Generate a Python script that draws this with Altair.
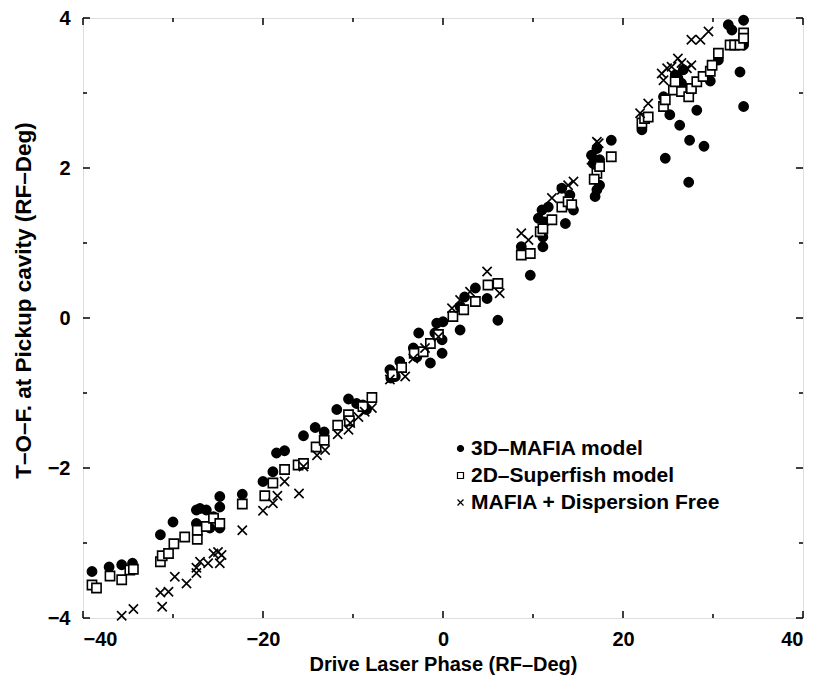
import altair as alt
import pandas as pd

# ---- data ----
mafia_x = [-39.0, -37.1, -35.7, -34.5, -31.4, -30.0, -27.4, -27.0, -26.3, -27.4, -25.9, -25.5,
           -24.8, -24.8, -24.8, -22.3, -20.0, -18.9, -18.5, -17.6, -15.5, -14.2, -13.2, -11.8,
           -10.5, -9.6, -8.9, -8.5, -5.9, -4.8, -5.3, -5.8, -2.7, -3.3, -2.9, -1.4, -0.1, -0.7,
           0.0, -0.1, 1.9, -0.9, 1.9, 2.4, 3.6, 4.9, 6.1, 9.7, 8.7, 11.1, 11.1, 10.6, 11.0, 11.7,
           11.3, 13.6, 13.2, 14.1, 14.5, 16.9, 17.1, 17.4, 16.7, 17.4, 16.5, 17.1, 18.7, 22.1,
           24.5, 25.2, 24.7, 26.3, 27.4, 27.3, 28.2, 29.0, 27.6, 29.7, 30.6, 33.0, 33.4, 31.7,
           32.1, 33.4, 33.4, 25.8, 26.1, 26.7, 26.0, 26.5]
mafia_y = [-3.38, -3.32, -3.29, -3.27, -2.89, -2.72, -2.56, -2.54, -2.56, -2.74, -2.80, -2.65,
           -2.38, -2.52, -2.80, -2.35, -2.18, -2.05, -1.80, -1.77, -1.57, -1.46, -1.52, -1.22,
           -1.08, -1.14, -1.16, -1.22, -0.69, -0.58, -0.78, -0.80, -0.20, -0.40, -0.52, -0.60,
           -0.47, -0.07, -0.05, -0.29, -0.16, -0.20, 0.15, 0.28, 0.40, 0.26, -0.03, 0.57, 0.95,
           0.95, 1.08, 1.33, 1.44, 1.48, 1.28, 1.26, 1.73, 1.64, 1.44, 1.62, 1.71, 1.77, 2.06,
           2.11, 2.17, 2.26, 2.37, 2.51, 2.95, 2.71, 2.13, 2.57, 2.37, 1.81, 2.77, 2.29, 3.04,
           3.16, 3.44, 3.28, 2.82, 3.91, 3.84, 3.97, 3.64, 3.24, 3.20, 3.31, 3.15, 3.13]

sf_x = [-39.0, -38.5, -37.0, -35.7, -34.8, -34.4, -31.4, -31.2, -30.5, -29.9, -28.7, -27.3,
        -27.3, -26.3, -25.5, -24.8, -22.3, -19.8, -18.9, -17.6, -16.1, -15.5, -14.1, -13.2,
        -11.7, -10.5, -10.4, -8.9, -7.9, -5.6, -4.6, -3.2, -2.2, -1.4, -0.5, 1.1, 2.3, 3.6,
        5.0, 6.1, 8.7, 9.7, 10.8, 11.1, 12.1, 13.2, 13.9, 14.3, 17.1, 16.8, 17.4, 18.7, 22.1,
        22.4, 22.8, 24.5, 24.7, 25.6, 26.5, 27.3, 27.6, 28.2, 28.9, 29.7, 29.9, 30.6, 31.9,
        32.4, 33.0, 33.4, 33.4, 25.8]
sf_y = [-3.56, -3.60, -3.44, -3.49, -3.36, -3.35, -3.25, -3.17, -3.14, -3.01, -2.92, -2.95,
        -2.83, -2.78, -2.67, -2.74, -2.48, -2.37, -2.20, -2.02, -1.96, -1.94, -1.72, -1.63,
        -1.43, -1.29, -1.37, -1.18, -1.06, -0.75, -0.66, -0.47, -0.45, -0.34, -0.22, 0.02,
        0.11, 0.22, 0.44, 0.46, 0.84, 0.86, 1.15, 1.19, 1.31, 1.48, 1.55, 1.51, 1.93, 1.85,
        2.02, 2.15, 2.60, 2.66, 2.68, 2.82, 2.91, 3.04, 3.02, 2.95, 3.06, 3.15, 3.22, 3.29,
        3.37, 3.53, 3.64, 3.64, 3.64, 3.80, 3.73, 3.15]

df_x = [-35.7, -34.4, -31.2, -31.4, -30.5, -29.8, -28.5, -27.4, -27.4, -27.0, -26.1, -25.5,
        -25.0, -24.8, -24.6, -22.3, -20.0, -18.9, -18.4, -17.6, -16.0, -15.5, -14.0, -13.1,
        -11.7, -10.5, -10.3, -9.4, -8.7, -7.9, -5.9, -4.2, -3.3, -2.0, -0.5, 1.0, 1.9, 4.9,
        6.3, 3.0, 8.7, 9.5, 12.1, 13.2, 13.9, 14.5, 16.5, 17.1, 17.3, 21.9, 22.8, 24.3, 24.5,
        24.9, 25.4, 26.1, 26.5, 27.1, 27.6, 27.6, 28.6, 29.5]
df_y = [-3.97, -3.88, -3.85, -3.66, -3.65, -3.45, -3.54, -3.40, -3.33, -3.25, -3.27, -3.14,
        -3.12, -3.27, -3.16, -2.83, -2.57, -2.47, -2.37, -2.18, -2.34, -1.98, -1.83, -1.76,
        -1.55, -1.49, -1.40, -1.32, -1.25, -1.20, -0.82, -0.78, -0.54, -0.40, -0.25, 0.13,
        0.24, 0.62, 0.33, 0.35, 1.13, 1.04, 1.60, 1.71, 1.77, 1.82, 2.11, 2.35, 2.33, 2.73,
        2.86, 3.26, 3.17, 3.33, 3.35, 3.46, 3.40, 3.33, 3.37, 3.71, 3.71, 3.82]

series_names = ["3D–MAFIA model", "2D–Superfish model", "MAFIA + Dispersion Free"]

x_major = [-40, -20, 0, 20, 40]
x_minor = [-30, -10, 10, 30]
y_major = [-4, -2, 0, 2, 4]
y_minor = [-3, -1, 1, 3]

# ---- tables ----
rows = []
for k, (name, xs, ys) in enumerate(zip(series_names, [mafia_x, sf_x, df_x], [mafia_y, sf_y, df_y])):
    for a, b in zip(xs, ys):
        rows.append({"phase": a, "tof": b, "model": name, "model_order": k})
pts = pd.DataFrame(rows)

FONT = "Liberation Sans"
W, H = 720, 600

xscale = alt.Scale(domain=[-40, 40], nice=False, zero=False)
yscale = alt.Scale(domain=[-4, 4], nice=False, zero=False)

x_axis = alt.Axis(values=x_major, format="d", ticks=False, domain=False, grid=False,
                  labelPadding=11, labelFontSize=20, labelFont=FONT, labelFontWeight="bold",
                  labelColor="black", title="Drive Laser Phase (RF–Deg)",
                  titleFontSize=20, titleFont=FONT, titleFontWeight="bold", titleColor="black",
                  titleBaseline="alphabetic", titleY=52)
y_axis = alt.Axis(values=y_major, format="d", ticks=False, domain=False, grid=False,
                  labelPadding=13, labelFontSize=20, labelFont=FONT, labelFontWeight="bold",
                  labelColor="black", title="T–O–F. at Pickup cavity (RF–Deg)",
                  titleFontSize=22.5, titleFont=FONT, titleFontWeight="bold", titleColor="black",
                  titleBaseline="alphabetic", titleAlign="center", titleX=-53, titleY=282)

xpath = "M-1,-1L1,1M1,-1L-1,1"

points = alt.Chart(pts).mark_point(size=85, strokeWidth=1.6, opacity=1, filled=False).encode(
    x=alt.X("phase:Q", scale=xscale, axis=x_axis),
    y=alt.Y("tof:Q", scale=yscale, axis=y_axis),
    shape=alt.Shape("model:N", scale=alt.Scale(domain=series_names,
                                               range=["circle", "square", xpath]),
                    legend=alt.Legend(title=None, orient="none", legendX=367, legendY=420,
                                      labelFont=FONT, labelFontSize=21, labelFontWeight="bold",
                                      labelColor="black", labelLimit=0, symbolSize=36,
                                      symbolStrokeWidth=1.2, rowPadding=5, labelOffset=0,
                                      padding=0)),
    fill=alt.Fill("model:N", scale=alt.Scale(domain=series_names,
                                             range=["black", "white", "transparent"]),
                  legend=None),
    stroke=alt.Stroke("model:N", scale=alt.Scale(domain=series_names,
                                                 range=["black", "black", "black"]),
                      legend=None),
    order=alt.Order("model_order:Q"),
)

def tick_layer(vals, axis, length, side):
    d = pd.DataFrame({"v": vals})
    base = alt.Chart(d).mark_rule(color="black", strokeWidth=1.5)
    if axis == "x":
        if side == "bottom":
            return base.encode(x=alt.X("v:Q", scale=xscale), y=alt.value(H), y2=alt.value(H - length))
        return base.encode(x=alt.X("v:Q", scale=xscale), y=alt.value(0), y2=alt.value(length))
    if side == "left":
        return base.encode(y=alt.Y("v:Q", scale=yscale), x=alt.value(0), x2=alt.value(length))
    return base.encode(y=alt.Y("v:Q", scale=yscale), x=alt.value(W), x2=alt.value(W - length))

ticks = []
for side in ["bottom", "top"]:
    ticks.append(tick_layer(x_major, "x", 7, side))
    ticks.append(tick_layer(x_minor, "x", 4, side))
for side in ["left", "right"]:
    ticks.append(tick_layer(y_major, "y", 7, side))
    ticks.append(tick_layer(y_minor, "y", 4, side))

chart = alt.layer(points, *ticks).properties(
    width=W, height=H,
    padding={"left": 83, "top": 18, "right": 13, "bottom": 57},
    autosize=alt.AutoSizeParams(type="none"),
).configure_view(stroke="black", strokeWidth=2).configure(background="white")

chart.save("out.html", embed_options={"renderer": "svg", "actions": False})
